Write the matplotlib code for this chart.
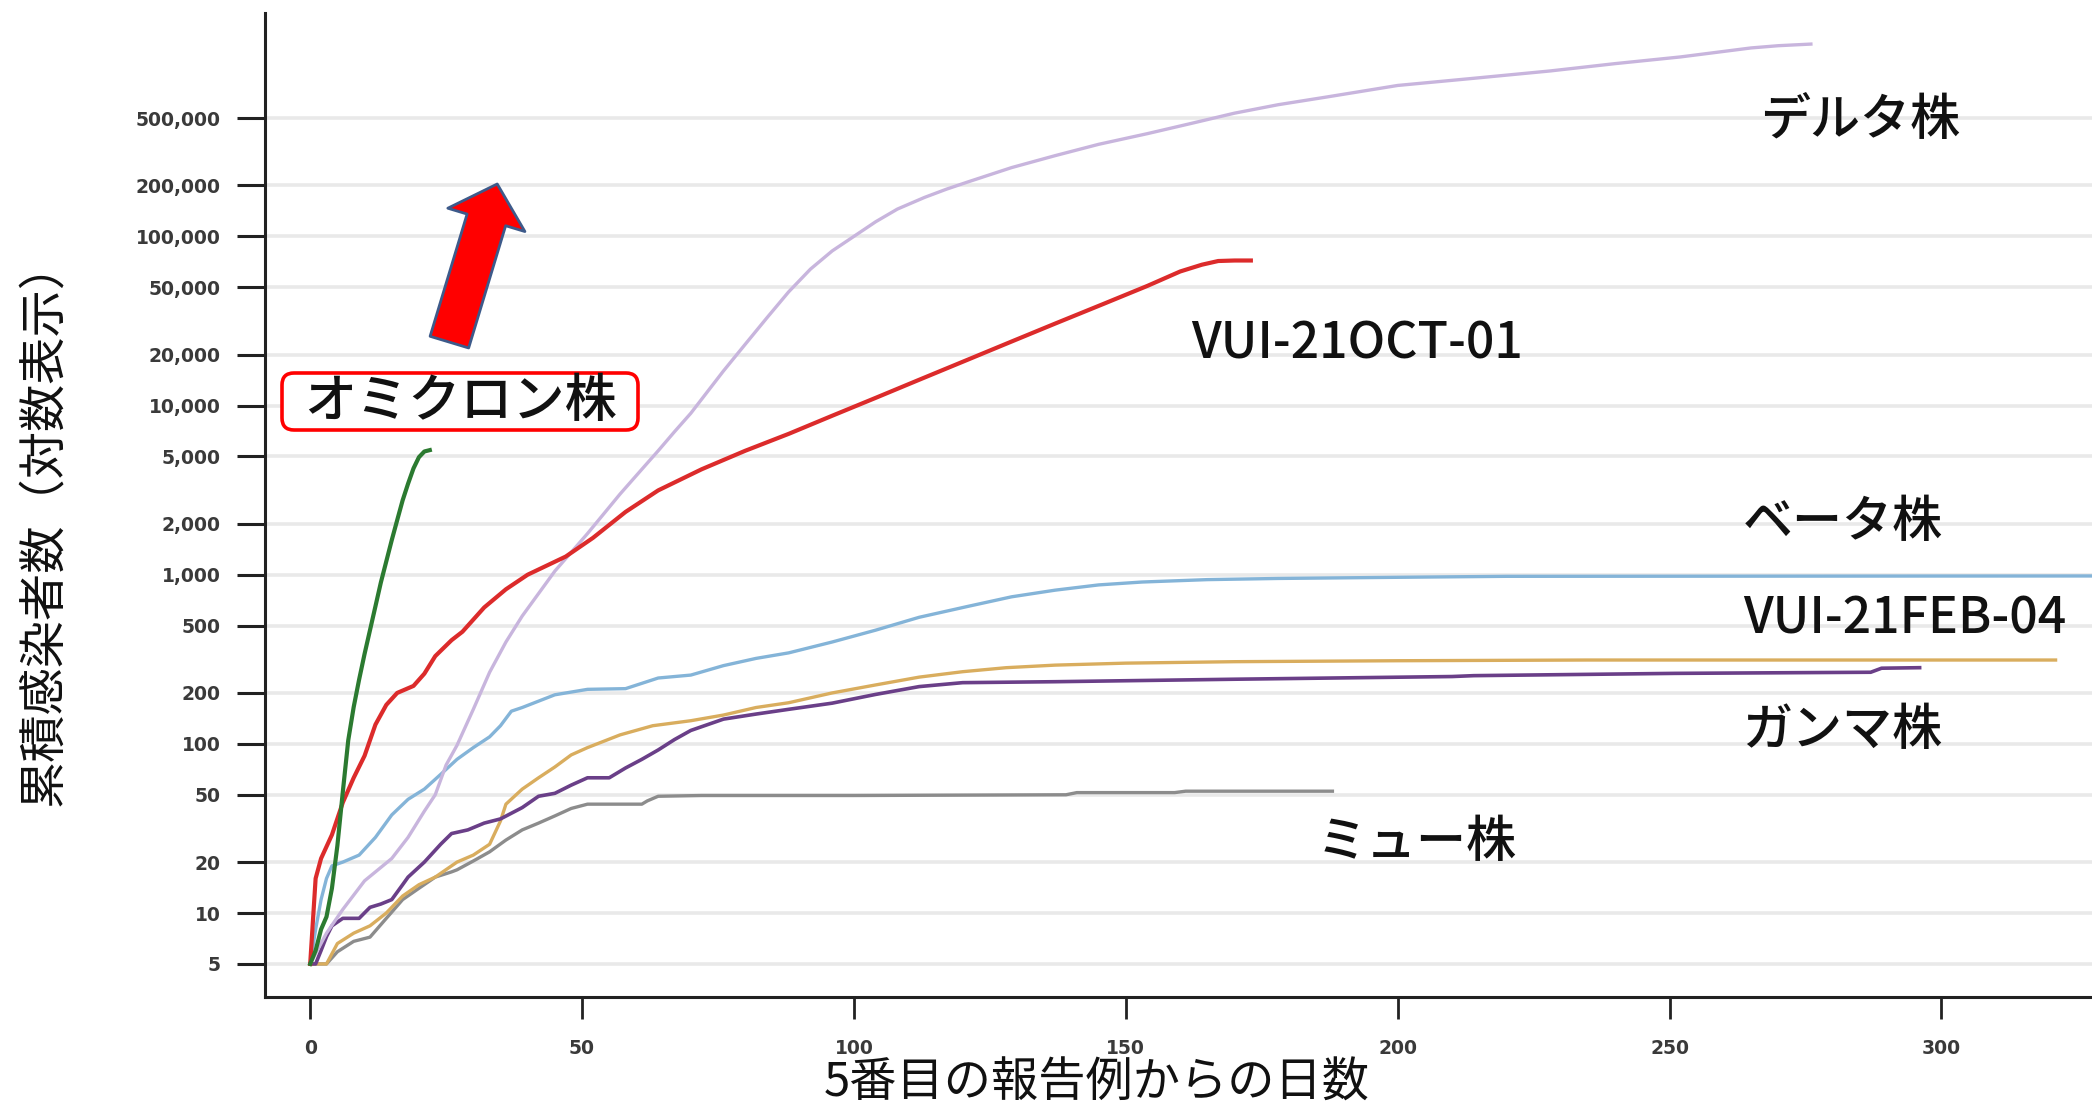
import matplotlib
matplotlib.use("Agg")
import matplotlib.pyplot as plt
from matplotlib.patches import FancyBboxPatch
from matplotlib.transforms import IdentityTransform
from matplotlib.ticker import FixedLocator, FixedFormatter, NullLocator

plt.rcParams['font.family'] = ['Noto Sans CJK JP', 'DejaVu Sans']

# ---- cumulative cases by days since the 5th reported case ----
omicron_days = [0, 1, 2, 3, 4, 5, 6, 7, 8, 9, 10, 11, 12, 13, 14, 15, 16, 17, 18, 19, 20, 21, 22]
omicron_cases = [5, 6, 8, 9.5, 14, 25, 52, 105, 165, 240, 340, 470, 650, 900, 1200, 1600,
                 2100, 2750, 3450, 4250, 4950, 5350, 5450]

oct01_days = [0, 1, 2, 4, 6, 8, 10, 12, 14, 16, 19, 21, 23, 26, 28, 32, 36, 40, 47, 52, 58, 64,
              72, 80, 88, 96, 104, 112, 121, 129, 137, 146, 154, 160, 164, 167, 170, 173]
oct01_cases = [5, 16, 21, 29, 45, 63, 85, 130, 170, 200, 220, 260, 330, 410, 460, 640, 820, 1000,
               1280, 1650, 2350, 3150, 4200, 5400, 6800, 8700, 11100, 14200, 18700, 23900,
               30500, 40000, 51000, 62000, 68000, 71500, 72000, 72000]

delta_days = [0, 3, 6, 10, 15, 18, 21, 23, 25, 27, 30, 33, 36, 39, 45, 51, 57, 61, 64, 67, 70,
              73, 76, 80, 84, 88, 92, 96, 100, 104, 108, 113, 117, 121, 129, 137, 145, 154, 162,
              170, 178, 187, 200, 214, 228, 240, 252, 265, 270, 276]
delta_cases = [5, 7.6, 10.5, 15.5, 21, 28, 40, 50, 75, 98, 160, 265, 400, 570, 1050, 1750, 3000,
               4200, 5400, 7000, 9000, 12000, 16000, 23000, 33000, 47000, 64000, 82000, 100000,
               122000, 145000, 170000, 190000, 210000, 255000, 300000, 350000, 405000, 465000,
               535000, 600000, 667000, 780000, 860000, 950000, 1050000, 1150000, 1300000,
               1340000, 1370000]

beta_days = [0, 1, 2, 3, 4, 6, 9, 12, 15, 18, 21, 24, 27, 30, 33, 35, 37, 39, 45, 51, 58, 64, 70,
             76, 82, 88, 96, 104, 112, 121, 129, 137, 145, 153, 165, 178, 200, 220, 260, 300, 335]
beta_cases = [5, 8, 12, 16, 19, 20, 22, 28, 38, 47, 54, 66, 81, 95, 110, 128, 156, 164, 195, 210,
              212, 245, 255, 290, 320, 345, 400, 470, 560, 650, 740, 810, 870, 905, 935, 950,
              965, 978, 980, 982, 983]

feb04_days = [0, 3, 5, 8, 11, 14, 17, 20, 23, 26, 27, 30, 33, 35, 36, 39, 42, 45, 48, 51, 57, 63,
              70, 76, 82, 88, 96, 104, 112, 120, 128, 137, 150, 170, 200, 235, 280, 321]
feb04_cases = [5, 5, 6.6, 7.6, 8.4, 10, 12.6, 14.7, 16.3, 19, 20, 22, 25.5, 35, 44, 54, 63, 73,
               86, 95, 113, 128, 137, 148, 164, 175, 200, 223, 248, 267, 282, 292, 300, 306, 310,
               313, 313, 313]

gamma_days = [0, 1, 2, 3, 4, 6, 9, 11, 13, 15, 17, 18, 21, 24, 26, 29, 32, 35, 39, 42, 45, 48, 51,
              55, 58, 61, 64, 67, 70, 76, 82, 88, 96, 104, 112, 120, 137, 170, 210, 214, 251, 287,
              289, 296]
gamma_cases = [5, 5, 6, 7.25, 8.4, 9.3, 9.3, 10.8, 11.3, 12, 14.7, 16.3, 20, 25.5, 29.5, 31, 34,
               36, 42, 49, 51, 57, 63, 63, 72, 81, 92, 106, 120, 140, 150, 160, 174, 196, 218, 230,
               233, 241, 250, 253, 261, 265, 280, 282]

mu_days = [0, 3, 5, 8, 11, 14, 17, 20, 23, 26, 27, 30, 33, 36, 39, 42, 45, 48, 51, 57, 61, 62,
           64, 72, 100, 139, 141, 159, 161, 188]
mu_cases = [5, 5, 5.9, 6.8, 7.2, 9.3, 12, 14, 16.3, 17.5, 18, 20.3, 23, 27, 31, 34, 37.5, 41.5,
            44, 44, 44, 46, 49, 49.5, 49.5, 50, 51.5, 51.5, 52.5, 52.5]

y_ticks = [5, 10, 20, 50, 100, 200, 500, 1000, 2000, 5000, 10000, 20000, 50000, 100000,
           200000, 500000]
x_ticks = [0, 50, 100, 150, 200, 250, 300]

# ---- figure ----
fig = plt.figure(figsize=(20.92, 11.06), dpi=100)
ax = fig.add_axes([0.1267, 0.0986, 0.8733, 0.8896])
ax.set_yscale('log')
ax.set_xlim(-8.3, 327.7)
ax.set_ylim(3.19, 2.09e6)

for s in ('top', 'right'):
    ax.spines[s].set_visible(False)
for s in ('left', 'bottom'):
    ax.spines[s].set_linewidth(2.2)
    ax.spines[s].set_color('#222222')

ax.yaxis.set_major_locator(FixedLocator(y_ticks))
ax.yaxis.set_major_formatter(FixedFormatter([f"{v:,}" for v in y_ticks]))
ax.yaxis.set_minor_locator(NullLocator())
ax.xaxis.set_major_locator(FixedLocator(x_ticks))
ax.xaxis.set_major_formatter(FixedFormatter([str(v) for v in x_ticks]))

ax.tick_params(axis='y', length=20, width=2.2, pad=12, color='#222222')
ax.tick_params(axis='x', length=16, width=2.0, pad=14, color='#222222')
for lab in ax.get_yticklabels() + ax.get_xticklabels():
    lab.set_fontfamily('DejaVu Sans')
    lab.set_fontweight('bold')
    lab.set_fontsize(13.5)
    lab.set_color('#3a3a3a')

ax.yaxis.grid(True, color='#e9e9e9', linewidth=2.6)
ax.set_axisbelow(True)

# ---- series ----
ax.plot(mu_days, mu_cases, color='#8c8c8c', lw=2.4, zorder=3)
ax.plot(feb04_days, feb04_cases, color='#d9ad5e', lw=2.4, zorder=3)
ax.plot(gamma_days, gamma_cases, color='#6a3f88', lw=2.6, zorder=3)
ax.plot(beta_days, beta_cases, color='#84b4d8', lw=2.4, zorder=3)
ax.plot(delta_days, delta_cases, color='#c8b5dd', lw=2.4, zorder=3)
ax.plot(oct01_days, oct01_cases, color='#dc2b2b', lw=3.0, zorder=4)
ax.plot(omicron_days, omicron_cases, color='#2b7a30', lw=3.0, zorder=5)

# ---- series labels ----
lab_kw = dict(fontsize=36, color='#111111', ha='center', va='center', fontweight='medium')
ax.text(285, 4.8e5, 'デルタ株', **lab_kw)
ax.text(192.6, 2.3e4, 'VUI-21OCT-01', **lab_kw)
ax.text(281.8, 2020, 'ベータ株', **lab_kw)
ax.text(293.2, 540, 'VUI-21FEB-04', **lab_kw)
ax.text(281.8, 119, 'ガンマ株', **lab_kw)
ax.text(203.4, 26, 'ミュー株', **lab_kw)

# highlighted label with rounded red frame
frame = FancyBboxPatch((282, 1106 - 430), 356, 57, boxstyle='round,pad=0,rounding_size=12',
                       transform=IdentityTransform(), fc='white', ec='#ff0000', lw=2.6,
                       zorder=6, clip_on=False)
ax.add_artist(frame)
omi_kw = dict(lab_kw, fontsize=37.5)
ax.text(27.6, 1.05e4, 'オミクロン株', zorder=7, **omi_kw)

# upward block arrow
ax.annotate('', xy=(34.4, 2.04e5), xytext=(25.6, 2.37e4), zorder=7,
            arrowprops=dict(arrowstyle='simple,head_length=2.7,head_width=5.8,tail_width=2.9',
                            mutation_scale=10, fc='#ff0000', ec='#3d5a8a', lw=2,
                            shrinkA=0, shrinkB=0))

# ---- axis titles ----
fig.text(1097 / 2092, 1 - 1083 / 1106, '5番目の報告例からの日数', fontsize=34,
         ha='center', va='center', color='#111111')
fig.text(44 / 2092, 1 - 522 / 1106, '累積感染者数（対数表示）', fontsize=34,
         rotation=90, ha='center', va='center', color='#111111')

fig.savefig('out.png', dpi=100)
